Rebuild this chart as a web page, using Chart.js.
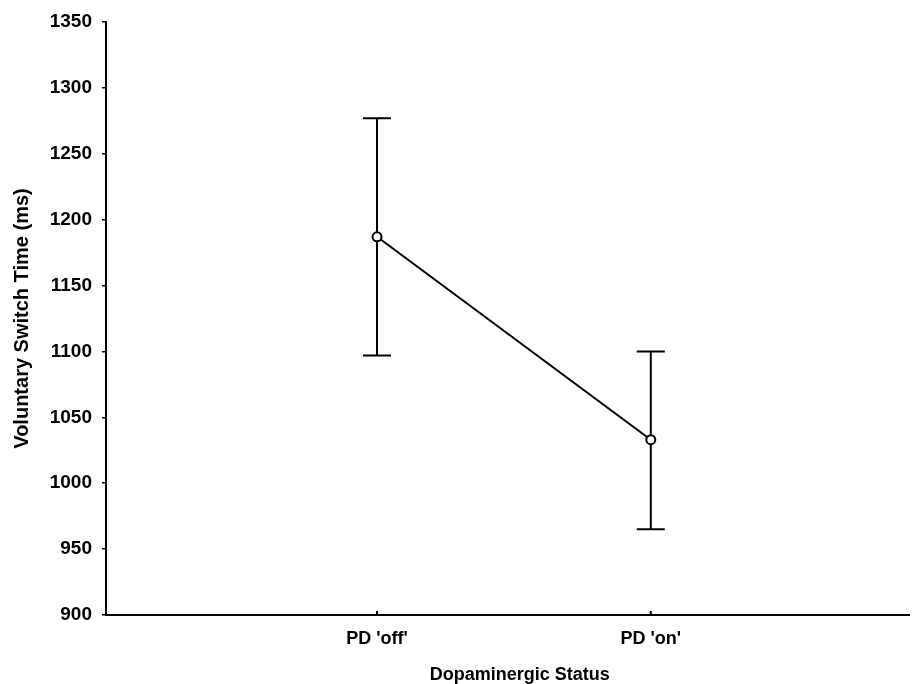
<!DOCTYPE html>
<html>
<head>
<meta charset="utf-8">
<script src="https://cdn.jsdelivr.net/npm/chart.js@4.4.1/dist/chart.umd.min.js"></script>
<style>
  html, body { margin: 0; padding: 0; background: #fff; }
  #wrap { width: 916px; height: 684px; position: relative; }
</style>
</head>
<body>
<div id="wrap"><canvas id="chart"></canvas></div>
<script>
// Group labels and their x positions on the axis
const categories = ["PD 'off'", "PD 'on'"];
const positions = [1, 2];

// Mean switch time and error bar ends (ms)
const means = [1187, 1033];
const errLow = [1097, 965];
const errHigh = [1277, 1100];

const yTicks = [900, 950, 1000, 1050, 1100, 1150, 1200, 1250, 1300, 1350];

const FONT = "'Liberation Sans', Arial, sans-serif";

// Draws the vertical error bars with caps, plus the small x ticks
const errorBars = {
  id: 'errorBars',
  beforeDatasetsDraw(chart) {
    const { ctx, scales: { x, y } } = chart;
    ctx.save();
    ctx.strokeStyle = '#000';
    ctx.lineWidth = 2;
    positions.forEach((p, i) => {
      const px = x.getPixelForValue(p);
      const top = y.getPixelForValue(errHigh[i]);
      const bot = y.getPixelForValue(errLow[i]);
      ctx.beginPath();
      ctx.moveTo(px, top);
      ctx.lineTo(px, bot);
      ctx.moveTo(px - 14, top);
      ctx.lineTo(px + 14, top);
      ctx.moveTo(px - 14, bot);
      ctx.lineTo(px + 14, bot);
      // tick on x axis
      ctx.moveTo(px, y.bottom);
      ctx.lineTo(px, y.bottom - 4);
      ctx.stroke();
    });
    ctx.restore();
  }
};

// x axis title, centred a little right of the plot middle as in the source
const xTitle = {
  id: 'xTitle',
  afterDraw(chart) {
    const { ctx, chartArea } = chart;
    ctx.save();
    ctx.fillStyle = '#000';
    ctx.font = 'bold 18px ' + FONT;
    ctx.textAlign = 'center';
    ctx.textBaseline = 'alphabetic';
    ctx.fillText('Dopaminergic Status', (chartArea.left + chartArea.right) / 2 + 12, 680);
    ctx.restore();
  }
};

new Chart(document.getElementById('chart'), {
  type: 'line',
  data: {
    datasets: [{
      data: positions.map((p, i) => ({ x: p, y: means[i] })),
      borderColor: '#000',
      borderWidth: 2,
      pointRadius: 4.5,
      pointBorderWidth: 2,
      pointBackgroundColor: '#fff',
      pointBorderColor: '#000',
      tension: 0
    }]
  },
  options: {
    responsive: true,
    maintainAspectRatio: false,
    animation: false,
    layout: { padding: { top: 22, right: 6, left: 0, bottom: 0 } },
    plugins: {
      legend: { display: false },
      tooltip: { enabled: false }
    },
    scales: {
      x: {
        type: 'linear',
        min: 0.01,
        max: 2.945,
        afterBuildTicks: (scale) => {
          scale.ticks = positions.map(v => ({ value: v }));
        },
        afterFit: (scale) => { scale.height = 69; },
        grid: { display: false, drawTicks: false },
        border: { color: '#000', width: 2 },
        ticks: {
          color: '#000',
          padding: 13,
          maxRotation: 0,
          font: { family: FONT, size: 18, weight: 'bold' },
          callback: (v) => categories[positions.indexOf(v)] || ''
        }
      },
      y: {
        min: 900,
        max: 1350,
        afterBuildTicks: (scale) => {
          scale.ticks = yTicks.map(v => ({ value: v }));
        },
        afterFit: (scale) => { scale.width = 106; },
        grid: { display: true, drawOnChartArea: false, drawTicks: true, tickLength: 4, color: '#000', lineWidth: 1.5 },
        border: { color: '#000', width: 2 },
        ticks: {
          color: '#000',
          padding: 10,
          font: { family: FONT, size: 19, weight: 'bold' },
          callback: (v) => String(v)
        },
        title: {
          display: true,
          text: 'Voluntary Switch Time (ms)',
          color: '#000',
          font: { family: FONT, size: 20, weight: 'bold' },
          padding: { top: 10, bottom: 0 }
        }
      }
    }
  },
  plugins: [errorBars, xTitle]
});
</script>
</body>
</html>
